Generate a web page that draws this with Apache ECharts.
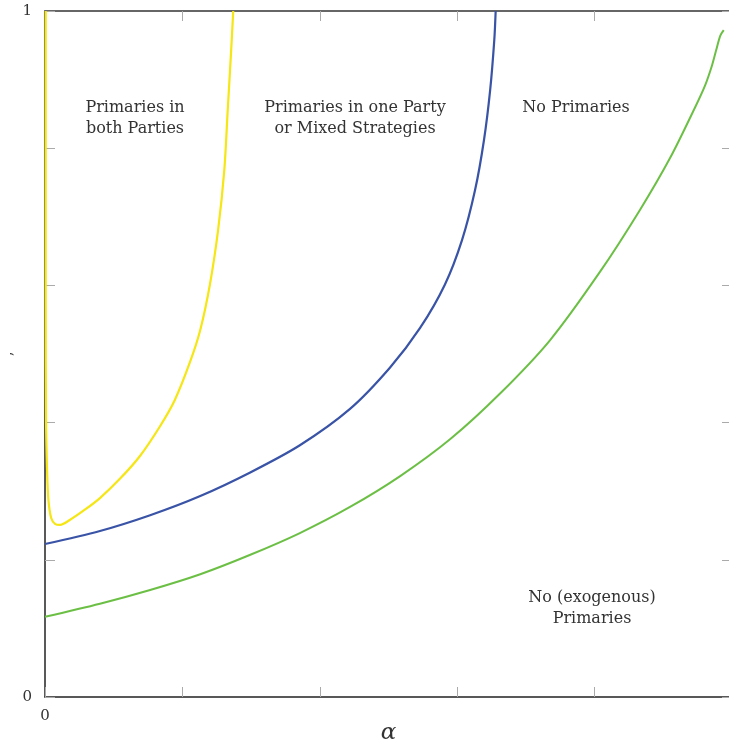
<!DOCTYPE html>
<html>
<head>
<meta charset="utf-8">
<script src="https://cdn.jsdelivr.net/npm/echarts@6/dist/echarts.min.js"></script>
<style>
  html, body { margin: 0; padding: 0; background: #fff; }
  #chart { width: 729px; height: 750px; }
</style>
</head>
<body>
<div id="chart"></div>
<script>
// Boundary curves in the (alpha, y) plane
const yellowCurve = [
  [0.001, 1.0], [0.001, 0.579], [0.0015, 0.404], [0.003, 0.331], [0.005, 0.287],
  [0.009, 0.261], [0.015, 0.252], [0.022, 0.251], [0.036, 0.258], [0.058, 0.273],
  [0.080, 0.290], [0.109, 0.318], [0.138, 0.351], [0.167, 0.394], [0.189, 0.433],
  [0.211, 0.488], [0.226, 0.535], [0.240, 0.601], [0.252, 0.681], [0.261, 0.768],
  [0.266, 0.856], [0.271, 0.943], [0.274, 1.0]
];
const blueCurve = [
  [0, 0.223], [0.080, 0.242], [0.153, 0.265], [0.226, 0.293], [0.298, 0.327],
  [0.371, 0.367], [0.444, 0.420], [0.502, 0.480], [0.546, 0.538], [0.582, 0.601],
  [0.607, 0.666], [0.626, 0.739], [0.639, 0.812], [0.648, 0.885], [0.654, 0.958],
  [0.656, 1.0]
];
const greenCurve = [
  [0, 0.117], [0.080, 0.136], [0.153, 0.156], [0.226, 0.179], [0.298, 0.207],
  [0.371, 0.239], [0.444, 0.277], [0.517, 0.322], [0.590, 0.376], [0.662, 0.442],
  [0.735, 0.520], [0.808, 0.620], [0.866, 0.710], [0.910, 0.786], [0.946, 0.859],
  [0.961, 0.892], [0.971, 0.921], [0.977, 0.943], [0.983, 0.964], [0.988, 0.972]
];
const tickLabels = [0, 1];
const regionLabels = [
  { text: 'Primaries in\nboth Parties', x: 135, y: 118 },
  { text: 'Primaries in one Party\nor Mixed Strategies', x: 355, y: 118 },
  { text: 'No Primaries', x: 576, y: 108 },
  { text: 'No (exogenous)\nPrimaries', x: 592, y: 608 }
];

const serif = '"DejaVu Serif", "Liberation Serif", serif';
const labelFmt = v => (tickLabels.indexOf(v) >= 0 ? String(v) : '');

const baseAxis = {
  type: 'value', min: 0, max: 1, interval: 0.2,
  splitLine: { show: false },
  axisTick: { show: true, inside: true, length: 10, lineStyle: { color: '#aaa', width: 1 } }
};

const chart = echarts.init(document.getElementById('chart'));
chart.setOption({
  animation: false,
  backgroundColor: '#fff',
  grid: { left: 45, top: 11, width: 687, height: 686, containLabel: false, outerBoundsMode: 'none' },
  xAxis: [
    Object.assign({}, baseAxis, {
      position: 'bottom',
      axisLine: { onZero: false, lineStyle: { color: '#222', width: 1.5 } },
      axisLabel: { formatter: labelFmt, margin: 12, color: '#333', fontFamily: serif, fontSize: 15,
        showMaxLabel: true, hideOverlap: false },
      name: 'α', nameLocation: 'middle', nameGap: 25, nameMoveOverlap: false,
      nameTextStyle: { fontFamily: serif, fontStyle: 'italic', fontSize: 23, color: '#333' }
    }),
    Object.assign({}, baseAxis, {
      position: 'top',
      axisLine: { onZero: false, lineStyle: { color: '#666', width: 2 } },
      axisLabel: { show: false }
    })
  ],
  yAxis: [
    Object.assign({}, baseAxis, {
      position: 'left',
      axisLine: { onZero: false, lineStyle: { color: '#222', width: 1.5 } },
      axisLabel: { formatter: labelFmt, margin: 13, color: '#333', fontFamily: serif, fontSize: 15 },
      name: '’', nameLocation: 'middle', nameGap: 20, nameRotate: 90, nameMoveOverlap: false,
      nameTextStyle: { fontFamily: serif, fontSize: 15, color: '#222' }
    }),
    Object.assign({}, baseAxis, {
      position: 'right',
      axisLine: { onZero: false, lineStyle: { color: '#666', width: 2 } },
      axisLabel: { show: false }
    })
  ],
  series: [
    { type: 'line', data: greenCurve, smooth: 0.3, symbol: 'none', lineStyle: { color: '#6cbf45', width: 2 } },
    { type: 'line', data: blueCurve, smooth: 0.3, symbol: 'none', lineStyle: { color: '#3953a6', width: 2.2 } },
    { type: 'line', data: yellowCurve, smooth: 0.3, symbol: 'none', lineStyle: { color: '#f5e614', width: 2.2 } }
  ],
  graphic: regionLabels.map(r => ({
    type: 'text',
    x: r.x, y: r.y,
    style: {
      text: r.text, fill: '#333', font: '16px ' + serif,
      align: 'center', verticalAlign: 'middle', lineHeight: 21
    }
  }))
});
</script>
</body>
</html>
